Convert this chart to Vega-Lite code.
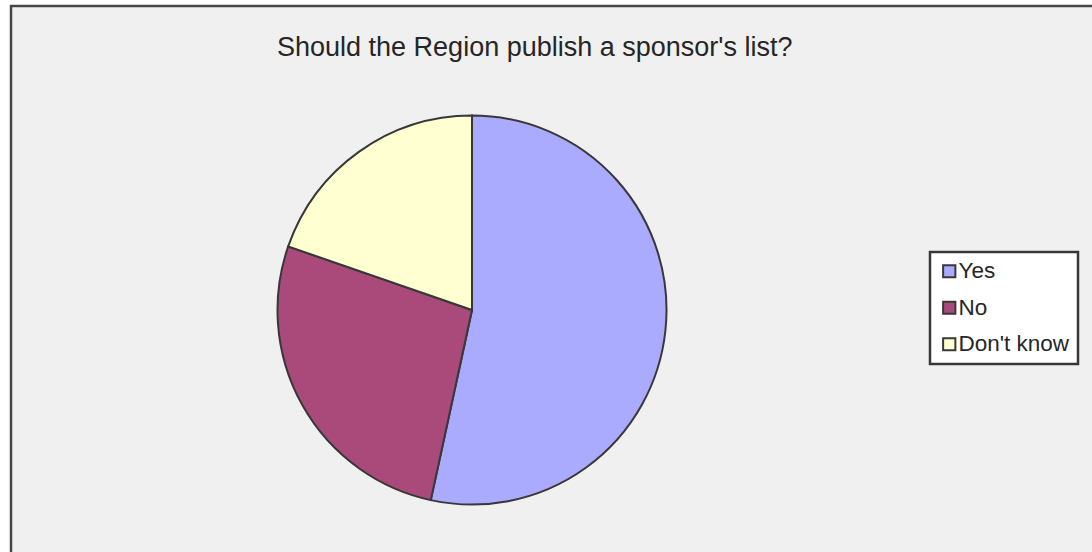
{
  "$schema": "https://vega.github.io/schema/vega-lite/v6.json",
  "width": 1100,
  "height": 560,
  "autosize": {"type": "none"},
  "padding": {"left": 11, "top": 6, "right": 0, "bottom": 0},
  "background": "#ffffff",
  "config": {
    "view": {"fill": "#f0f0f0", "stroke": "#474747", "strokeWidth": 2.5},
    "font": "Liberation Sans"
  },
  "title": {
    "text": "Should the Region publish a sponsor's list?",
    "anchor": "start",
    "frame": "group",
    "orient": "top",
    "offset": 0,
    "baseline": "alphabetic",
    "dx": 266,
    "dy": 77,
    "fontSize": 27,
    "fontWeight": "normal",
    "font": "Liberation Sans",
    "color": "#262626"
  },
  "data": {
    "values": [
      {"answer": "Yes", "share": 53.4, "rank": 1},
      {"answer": "No", "share": 26.9, "rank": 2},
      {"answer": "Don't know", "share": 19.7, "rank": 3}
    ]
  },
  "mark": {"type": "arc", "stroke": "#383838", "strokeWidth": 2, "outerRadius": 194.5},
  "encoding": {
    "theta": {"field": "share", "type": "quantitative", "stack": true},
    "order": {"field": "rank", "type": "quantitative"},
    "x": {"datum": 0.4191, "type": "quantitative", "scale": {"domain": [0, 1]}, "axis": null},
    "y": {"datum": 0.4571, "type": "quantitative", "scale": {"domain": [0, 1]}, "axis": null},
    "color": {
      "field": "answer",
      "type": "nominal",
      "scale": {"domain": ["Yes", "No", "Don't know"], "range": ["#aaaaff", "#a94a7a", "#ffffd2"]},
      "legend": {
        "title": null,
        "orient": "none",
        "legendX": 919,
        "legendY": 246,
        "symbolType": "square",
        "symbolSize": 150,
        "symbolStrokeColor": "#383838",
        "symbolStrokeWidth": 2,
        "symbolOpacity": 1,
        "labelFontSize": 22.5,
        "labelFont": "Liberation Sans",
        "labelColor": "#262626",
        "labelOffset": -2,
        "rowPadding": 13.5,
        "padding": 8,
        "fillColor": "#ffffff",
        "strokeColor": "#383838",
        "encode": {"legend": {"update": {"strokeWidth": {"value": 2.5}}}}
      }
    }
  }
}
